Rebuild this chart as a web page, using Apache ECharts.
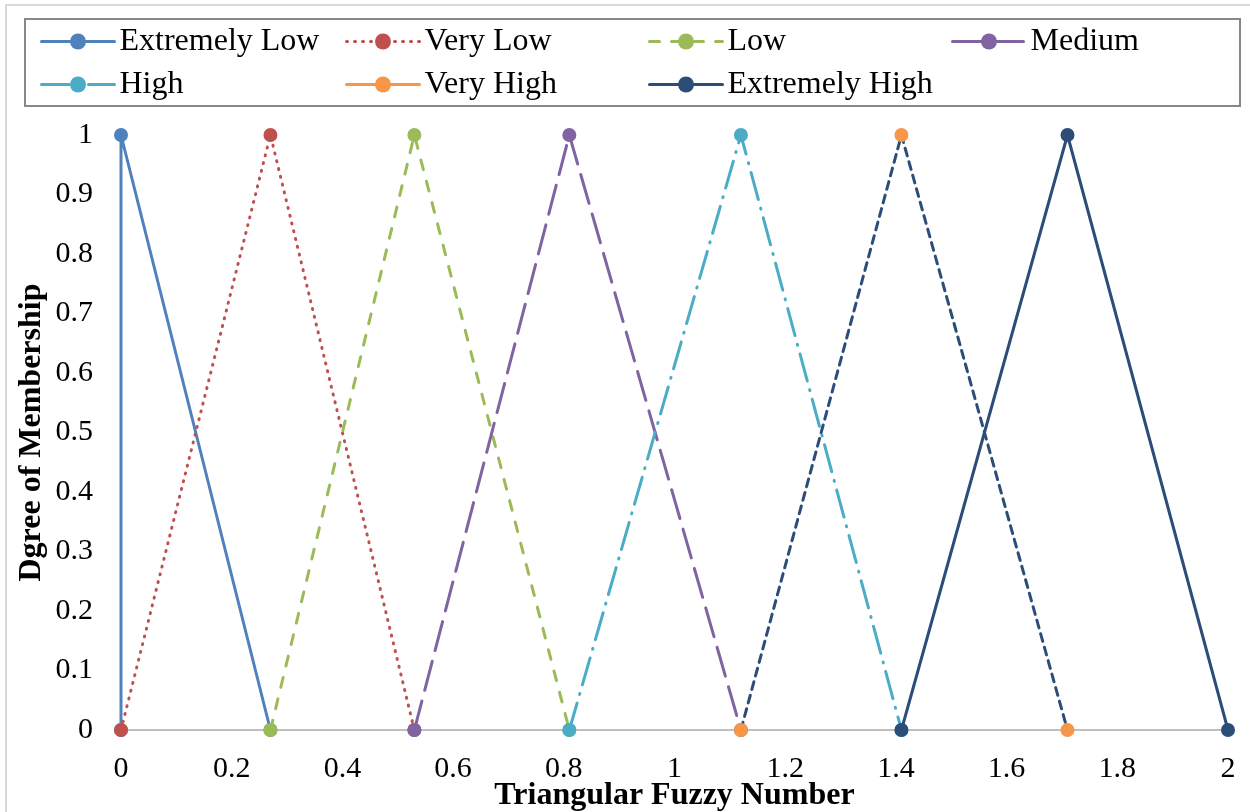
<!DOCTYPE html>
<html>
<head>
<meta charset="utf-8">
<title>Triangular Fuzzy Numbers</title>
<script src="https://cdn.jsdelivr.net/npm/echarts@6/dist/echarts.min.js"></script>
<style>
  html, body { margin: 0; padding: 0; background: #ffffff; }
  #chart { width: 1250px; height: 812px; }
</style>
</head>
<body>
<div id="chart"></div>
<script>
// Linguistic terms and their triangular membership functions: [x, membership]
const termNames = ['Extremely Low', 'Very Low', 'Low', 'Medium', 'High', 'Very High', 'Extremely High'];
const extremelyLow  = [[0, 0], [0, 1], [0.27, 0]];
const veryLow       = [[0, 0], [0.27, 1], [0.53, 0]];
const low           = [[0.27, 0], [0.53, 1], [0.81, 0]];
const medium        = [[0.53, 0], [0.81, 1], [1.12, 0]];
const high          = [[0.81, 0], [1.12, 1], [1.41, 0]];
const veryHigh      = [[1.12, 0], [1.41, 1], [1.71, 0]];
const extremelyHigh = [[1.41, 0], [1.71, 1], [2, 0]];
const xTicks = [0, 0.2, 0.4, 0.6, 0.8, 1, 1.2, 1.4, 1.6, 1.8, 2];
const yTicks = [0, 0.1, 0.2, 0.3, 0.4, 0.5, 0.6, 0.7, 0.8, 0.9, 1];

const FONT = '"Liberation Serif", "Times New Roman", serif';
const NAVY = '#2C4D77';

const styles = [
  { marker: '#4F81BD', line: '#4F81BD', dash: 'solid' },
  { marker: '#C0504D', line: '#C0504D', dash: [1, 7] },
  { marker: '#9BBB59', line: '#9BBB59', dash: [10, 12] },
  { marker: '#8064A2', line: '#8064A2', dash: [30, 11] },
  { marker: '#4BACC6', line: '#4BACC6', dash: [28, 9, 1, 9] },
  { marker: '#F79646', line: NAVY, dash: [8, 6] },
  { marker: NAVY, line: NAVY, dash: 'solid' }
];
const dataSets = [extremelyLow, veryLow, low, medium, high, veryHigh, extremelyHigh];

const series = termNames.map((name, i) => ({
  name: name,
  type: 'line',
  data: dataSets[i],
  symbol: 'circle',
  symbolSize: 14,
  showAllSymbol: true,
  animation: false,
  itemStyle: { color: styles[i].marker },
  lineStyle: { color: styles[i].line, width: 3, type: styles[i].dash, cap: 'round' },
  z: 2 + i
}));

// Legend entries; "Very High" is keyed with a solid orange line
function legendItem(i) {
  const item = { name: termNames[i] };
  if (i === 5) item.lineStyle = { color: '#F79646', type: 'solid', width: 3 };
  return item;
}
const legendColumns = [[0, 4], [1, 5], [2, 6], [3]];
const legendLefts = [40, 345, 648, 951];
const legends = legendColumns.map((col, c) => ({
  orient: 'vertical',
  left: legendLefts[c],
  top: 24,
  padding: 0,
  itemGap: 8,
  itemWidth: 73,
  itemHeight: 20,
  selectedMode: false,
  lineStyle: { width: 3 },
  data: col.map(legendItem),
  textStyle: { fontFamily: FONT, fontSize: 32, color: '#000', lineHeight: 35 }
}));

const chart = echarts.init(document.getElementById('chart'), null, { renderer: 'canvas' });
chart.setOption({
  backgroundColor: '#ffffff',
  animation: false,
  graphic: [
    { type: 'rect', shape: { x: 6, y: 5, width: 1270, height: 830 },
      style: { fill: 'none', stroke: '#d9d9d9', lineWidth: 2 }, silent: true },
    { type: 'rect', shape: { x: 25, y: 19, width: 1215, height: 87 },
      style: { fill: 'none', stroke: '#888888', lineWidth: 2 }, silent: true }
  ],
  legend: legends,
  grid: { left: 121, right: 22, top: 135, bottom: 82, containLabel: false, outerBoundsMode: 'none' },
  xAxis: {
    type: 'value',
    min: xTicks[0],
    max: xTicks[xTicks.length - 1],
    interval: 0.2,
    name: 'Triangular Fuzzy Number',
    nameLocation: 'middle',
    nameGap: 50,
    nameMoveOverlap: false,
    nameTextStyle: { fontFamily: FONT, fontSize: 32, fontWeight: 'bold', color: '#000' },
    axisLine: { show: true, onZero: true, lineStyle: { color: '#BFBFBF', width: 2 } },
    axisTick: { show: false },
    splitLine: { show: false },
    axisLabel: {
      margin: 24,
      fontFamily: FONT, fontSize: 30, color: '#000',
      formatter: v => String(Math.round(v * 10) / 10)
    }
  },
  yAxis: {
    type: 'value',
    min: yTicks[0],
    max: yTicks[yTicks.length - 1],
    interval: 0.1,
    name: 'Dgree of Membership',
    nameLocation: 'middle',
    nameGap: 73,
    nameMoveOverlap: false,
    nameTextStyle: { fontFamily: FONT, fontSize: 32, fontWeight: 'bold', color: '#000' },
    axisLine: { show: false },
    axisTick: { show: false },
    splitLine: { show: false },
    axisLabel: {
      margin: 28,
      fontFamily: FONT, fontSize: 30, color: '#000',
      formatter: v => String(Math.round(v * 10) / 10)
    }
  },
  series: series
});
</script>
</body>
</html>
